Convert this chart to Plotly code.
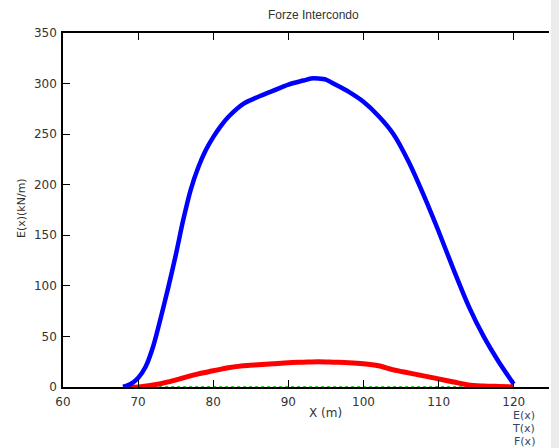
import plotly.graph_objects as go

# Distance along the section (m)
x_e = [68, 69, 70, 71, 72, 73, 74, 75, 76, 77, 78, 79, 80, 81, 82, 84, 86, 88, 90,
       92, 93, 94, 95, 96, 98, 100, 102, 104, 106, 108, 110, 112, 114, 116, 118, 120]
# E(x) in kN/m
e_vals = [0, 3, 9, 20, 40, 68, 98, 130, 165, 195, 217, 234, 247, 258, 267, 280, 287, 293, 299,
          303, 305, 305, 304, 300, 292, 282, 268, 250, 223, 190, 154, 116, 80, 50, 25, 3]

x_t = [68, 70, 72, 74, 76, 78, 80, 82, 84, 86, 88, 90, 92, 94, 96, 98, 100,
       102, 104, 106, 108, 110, 112, 114, 116, 118, 120]
# T(x) in kN/m
t_vals = [0, 0, 2, 5, 9, 13, 16, 19, 21, 22, 23, 24, 24.5, 25, 24.5, 24, 23,
          21, 17, 14, 11, 8, 5, 2, 1, 0.5, 0]

x_f = [68, 120]
# F(x) in kN/m
f_vals = [0, 0]

x_ticks = [60, 70, 80, 90, 100, 110, 120]
y_ticks = [0, 50, 100, 150, 200, 250, 300, 350]

TEXT = "#333333"
FONT = "DejaVu Sans"

fig = go.Figure()
fig.add_trace(go.Scatter(x=x_f, y=f_vals, mode="lines", name="F(x)",
                         line=dict(color="#2ecc2e", width=2, dash="dot")))
fig.add_trace(go.Scatter(x=x_t, y=t_vals, mode="lines", name="T(x)",
                         line=dict(color="#ff0000", width=5, shape="spline", smoothing=0.8)))
fig.add_trace(go.Scatter(x=x_e, y=e_vals, mode="lines", name="E(x)",
                         line=dict(color="#0000ff", width=4.5, shape="spline", smoothing=0.8)))

axis_common = dict(showgrid=False, zeroline=False, showline=True, linecolor="black",
                   linewidth=1.5, ticks="inside", ticklen=7, tickwidth=1.2,
                   tickcolor="black", tickfont=dict(family=FONT, size=12, color=TEXT))

fig.update_xaxes(range=[60, 124.7], tickvals=x_ticks, mirror="ticks",
                 ticklabelstandoff=3, **axis_common)
fig.update_yaxes(range=[0, 350], tickvals=y_ticks, mirror=False,
                 ticklabelstandoff=2, **axis_common)

L, R, T, B = 63, 10, 33, 61
W, H = 559, 448
pw, ph = W - L - R, H - T - B

def px(xp):
    return (xp - L) / pw

def py(yp):
    return (H - B - yp) / ph

def note(text, xp, yp, size=12, color=TEXT, family=FONT, xanchor="center", angle=0):
    return dict(text=text, x=px(xp), y=py(yp), xref="paper", yref="paper",
                xanchor=xanchor, yanchor="middle", textangle=angle, showarrow=False,
                font=dict(family=family, size=size, color=color))

annotations = [
    note("Forze Intercondo", 313, 15, family="Liberation Sans"),
    note("X (m)", 325, 413),
    note("E(x)(kN/m)", 21, 208, size=11, angle=-90),
]
for label, yp in [("E(x)", 415), ("T(x)", 428), ("F(x)", 441)]:
    annotations.append(note(label, 537, yp, size=11, color="#334466", xanchor="right"))

fig.update_layout(
    width=W, height=H,
    margin=dict(l=L, r=R, t=T, b=B),
    paper_bgcolor="white", plot_bgcolor="white",
    showlegend=False,
    annotations=annotations,
    shapes=[dict(type="rect", xref="paper", yref="paper",
                 x0=px(551), x1=px(560), y0=py(449), y1=py(-1),
                 fillcolor="#ebebeb", line=dict(width=0), layer="below")],
)

fig.write_html("out.html")
